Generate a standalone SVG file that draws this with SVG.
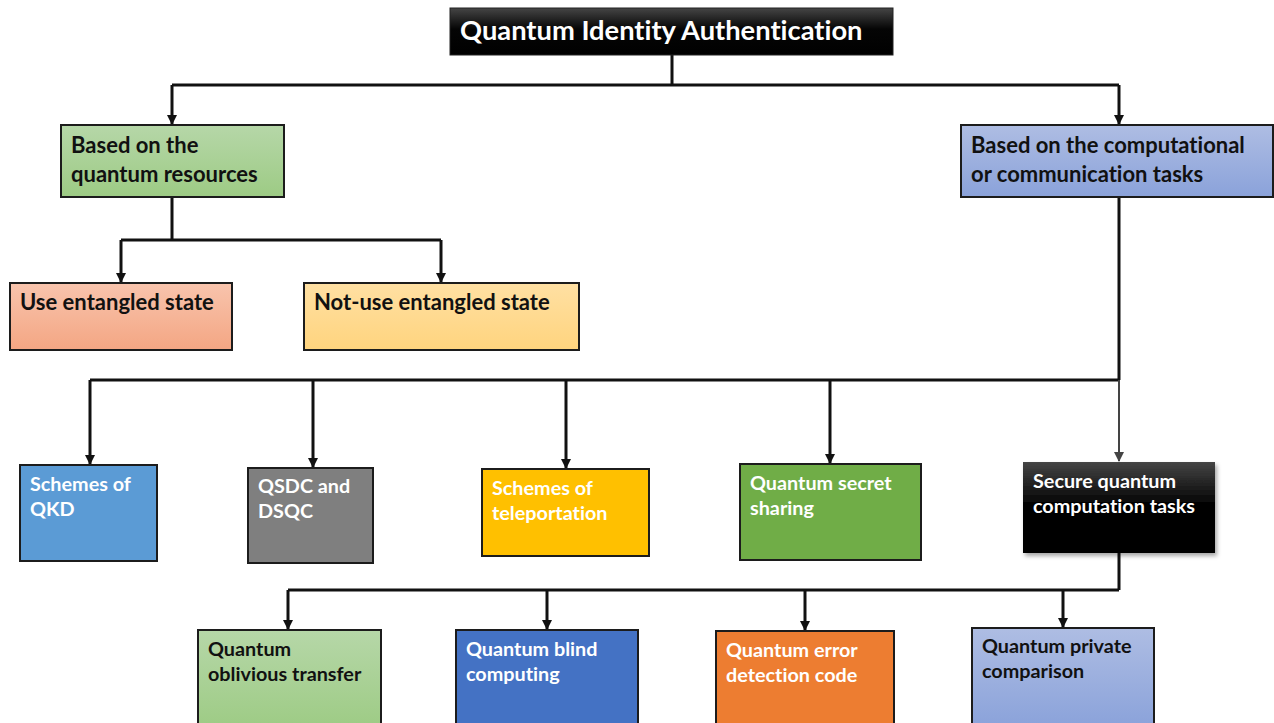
<svg xmlns="http://www.w3.org/2000/svg" width="1274" height="723" viewBox="0 0 1274 723">
<defs>
<linearGradient id="gBlack" x1="0" y1="0" x2="0" y2="1"><stop offset="0" stop-color="#454545"/><stop offset="0.45" stop-color="#050505"/><stop offset="1" stop-color="#000"/></linearGradient>
<linearGradient id="gGreen" x1="0" y1="0" x2="0" y2="1"><stop offset="0" stop-color="#b6d7a8"/><stop offset="1" stop-color="#9dcb84"/></linearGradient>
<linearGradient id="gBlue" x1="0" y1="0" x2="0" y2="1"><stop offset="0" stop-color="#aebde3"/><stop offset="1" stop-color="#8aa2da"/></linearGradient>
<linearGradient id="gPink" x1="0" y1="0" x2="0" y2="1"><stop offset="0" stop-color="#f8c4ad"/><stop offset="1" stop-color="#f4a683"/></linearGradient>
<linearGradient id="gYellow" x1="0" y1="0" x2="0" y2="1"><stop offset="0" stop-color="#ffe0a3"/><stop offset="1" stop-color="#ffd47e"/></linearGradient>
<marker id="arr" viewBox="0 0 10 10" refX="9" refY="5" markerWidth="10" markerHeight="10" markerUnits="userSpaceOnUse" orient="auto"><path d="M0,0 L10,5 L0,10 z" fill="#111"/></marker>
<marker id="arrG" viewBox="0 0 10 10" refX="9" refY="5" markerWidth="10" markerHeight="10" markerUnits="userSpaceOnUse" orient="auto"><path d="M0,0 L10,5 L0,10 z" fill="#444"/></marker>
<filter id="sh" x="-10%" y="-10%" width="130%" height="130%"><feDropShadow dx="2" dy="3" stdDeviation="2" flood-color="#000" flood-opacity="0.35"/></filter>
</defs>
<style>
text{font-variant-ligatures:none}
.box{stroke:#1c1c1c;stroke-width:2}
.t{font-family:Lato,"Liberation Sans",sans-serif;font-weight:bold;font-size:22px;fill:#111}
.s{font-family:Lato,"Liberation Sans",sans-serif;font-weight:bold;font-size:19.8px}
.w{fill:#fff}
.k{fill:#111}
.c{fill:none;stroke:#111;stroke-width:3}
</style>
<g id="connectors">
<path class="c" d="M672,55 V85 M172,85 H1119"/>
<path class="c" d="M172,85 V124" marker-end="url(#arr)"/>
<path class="c" d="M1119,85 V124" marker-end="url(#arr)"/>
<path class="c" d="M172,197 V240 M121,240 H441"/>
<path class="c" d="M121,240 V282" marker-end="url(#arr)"/>
<path class="c" d="M441,240 V282" marker-end="url(#arr)"/>
<path class="c" d="M1119,197 V380 M90,380 H1119"/>
<path class="c" d="M90,380 V464" marker-end="url(#arr)"/>
<path class="c" d="M313,380 V467" marker-end="url(#arr)"/>
<path class="c" d="M566,380 V468" marker-end="url(#arr)"/>
<path class="c" d="M830,380 V463" marker-end="url(#arr)"/>
<path d="M1119,380 V461" fill="none" stroke="#444" stroke-width="2" marker-end="url(#arrG)"/>
<path class="c" d="M1119,553 V590 M288,590 H1119"/>
<path class="c" d="M288,590 V629" marker-end="url(#arr)"/>
<path class="c" d="M547,590 V629" marker-end="url(#arr)"/>
<path class="c" d="M805,590 V630" marker-end="url(#arr)"/>
<path class="c" d="M1063,590 V627" marker-end="url(#arr)"/>
</g>
<g id="title">
<rect x="450" y="8" width="443" height="47" fill="url(#gBlack)" stroke="#222" stroke-width="1"/>
<text x="460" y="40" font-family="Lato,'Liberation Sans',sans-serif" font-weight="bold" font-size="27.3" fill="#fff">Quantum Identity Authentication</text>
</g>
<g id="quantum-resources">
<rect class="box" x="61" y="125" width="223" height="72" fill="url(#gGreen)"/>
<text class="t" x="71" y="153">Based on the</text>
<text class="t" x="71" y="182">quantum resources</text>
</g>
<g id="computational-tasks">
<rect class="box" x="961" y="125" width="312" height="72" fill="url(#gBlue)"/>
<text class="t" x="971" y="153">Based on the computational</text>
<text class="t" x="971" y="182">or communication tasks</text>
</g>
<g id="use-entangled">
<rect class="box" x="10" y="283" width="222" height="67" fill="url(#gPink)"/>
<text class="t" x="20" y="310">Use entangled state</text>
</g>
<g id="not-use-entangled">
<rect class="box" x="304" y="283" width="275" height="67" fill="url(#gYellow)"/>
<text class="t" x="314" y="310">Not-use entangled state</text>
</g>
<g id="qkd">
<rect class="box" x="20" y="465" width="137" height="96" fill="#5b9bd5"/>
<text class="s w" x="30" y="491">Schemes of</text>
<text class="s w" x="30" y="516">QKD</text>
</g>
<g id="qsdc">
<rect class="box" x="248" y="468" width="125" height="95" fill="#7f7f7f"/>
<text class="s w" x="258" y="493">QSDC and</text>
<text class="s w" x="258" y="518">DSQC</text>
</g>
<g id="teleportation">
<rect class="box" x="482" y="469" width="167" height="87" fill="#ffc000"/>
<text class="s w" x="492" y="495">Schemes of</text>
<text class="s w" x="492" y="520">teleportation</text>
</g>
<g id="secret-sharing">
<rect class="box" x="740" y="464" width="181" height="96" fill="#70ad47"/>
<text class="s w" x="750" y="490">Quantum secret</text>
<text class="s w" x="750" y="515">sharing</text>
</g>
<g id="secure-computation">
<rect x="1023" y="462" width="192" height="91" fill="url(#gBlack)" filter="url(#sh)"/>
<text class="s w" x="1033" y="488" font-size="18.9">Secure quantum</text>
<text class="s w" x="1033" y="513" font-size="18.9">computation tasks</text>
</g>
<g id="oblivious-transfer">
<rect class="box" x="198" y="630" width="183" height="100" fill="url(#gGreen)"/>
<text class="s k" x="208" y="656">Quantum</text>
<text class="s k" x="208" y="681">oblivious transfer</text>
</g>
<g id="blind-computing">
<rect class="box" x="456" y="630" width="182" height="100" fill="#4472c4"/>
<text class="s w" x="466" y="656">Quantum blind</text>
<text class="s w" x="466" y="681">computing</text>
</g>
<g id="error-detection">
<rect class="box" x="716" y="631" width="178" height="100" fill="#ed7d31"/>
<text class="s w" x="726" y="657">Quantum error</text>
<text class="s w" x="726" y="682">detection code</text>
</g>
<g id="private-comparison">
<rect class="box" x="972" y="628" width="182" height="100" fill="url(#gBlue)"/>
<text class="s k" x="982" y="653">Quantum private</text>
<text class="s k" x="982" y="678">comparison</text>
</g>
</svg>
